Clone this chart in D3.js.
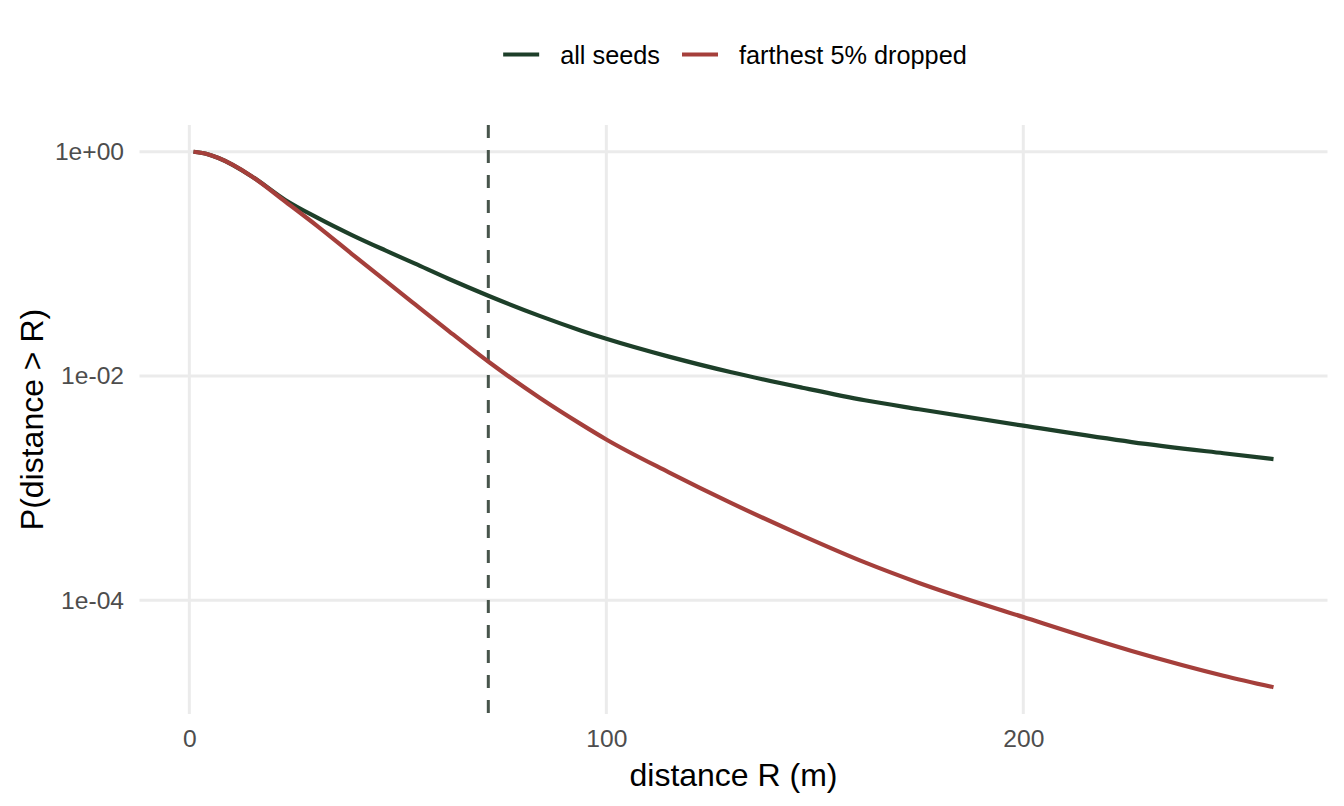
<!DOCTYPE html>
<html>
<head>
<meta charset="utf-8">
<script src="https://cdn.jsdelivr.net/npm/d3@7"></script>
<style>
  body { margin: 0; background: #fff; }
  svg { font-family: "Liberation Sans", Arial, sans-serif; }
</style>
</head>
<body>
<div id="chart"></div>
<script>
// distance R (m) where the curves were read
const distances = [1, 4, 7, 15, 23, 31, 39, 47, 54, 62, 72, 84, 94, 100, 115, 130, 147, 162, 175, 200, 226, 248, 260];
// P(distance > R), all seeds
const allSeeds = [1, 0.959, 0.879, 0.603, 0.372, 0.255, 0.181, 0.132, 0.101, 0.0741, 0.0515, 0.0344, 0.0254, 0.0215,
                  0.0149, 0.0108, 0.00787, 0.00608, 0.00506, 0.00361, 0.00258, 0.00205, 0.00182];
// P(distance > R), farthest 5% dropped
const dropped = [1, 0.959, 0.879, 0.603, 0.360, 0.213, 0.1225, 0.0708, 0.0440, 0.0256, 0.0132, 0.00641, 0.00371, 0.00272,
                 0.001385, 0.000736, 0.000378, 0.000218, 0.000143, 0.0000710, 0.0000354, 0.0000213, 0.0000168];
const seriesNames = ["all seeds", "farthest 5% dropped"];
const cutoff = 71.7;  // dashed line
const xTicks = [0, 100, 200];
const yTicks = [1, 1e-2, 1e-4];
const yTickLabels = ["1e+00", "1e-02", "1e-04"];

function drawChart() {
    d3.select("#chart").selectAll("*").remove();

    const width = 1344, height = 806;
    const left = 139.5, right = 1327.5, top = 125, bottom = 714;
    const colors = ["#1d3f29", "#a53f3b"];

    const svg = d3.select("#chart").append("svg")
        .attr("width", width).attr("height", height);

    // ggplot style 5% expansion (log space for y)
    const xExt = d3.extent(distances);
    const xPad = (xExt[1] - xExt[0]) * 0.05;
    const x = d3.scaleLinear().domain([xExt[0] - xPad, xExt[1] + xPad]).range([left, right]);

    const lo = Math.log10(d3.min(dropped.concat(allSeeds)));
    const hi = Math.log10(d3.max(dropped.concat(allSeeds)));
    const yPad = (hi - lo) * 0.05;
    const y = d3.scaleLog().domain([Math.pow(10, lo - yPad), Math.pow(10, hi + yPad)]).range([bottom, top]);

    // grid
    svg.append("g").selectAll("line").data(xTicks).join("line")
        .attr("x1", d => x(d)).attr("x2", d => x(d))
        .attr("y1", top).attr("y2", bottom)
        .attr("stroke", "#ebebeb").attr("stroke-width", 3);
    svg.append("g").selectAll("line").data(yTicks).join("line")
        .attr("x1", left).attr("x2", right)
        .attr("y1", d => y(d)).attr("y2", d => y(d))
        .attr("stroke", "#ebebeb").attr("stroke-width", 3);

    // axes (labels only)
    const xAxis = svg.append("g")
        .attr("transform", `translate(0,${bottom})`)
        .call(d3.axisBottom(x).tickValues(xTicks).tickSize(0).tickPadding(16));
    const yAxis = svg.append("g")
        .attr("transform", `translate(${left},0)`)
        .call(d3.axisLeft(y).tickValues(yTicks).tickSize(0).tickPadding(15.5)
            .tickFormat((d, i) => yTickLabels[i]));
    [xAxis, yAxis].forEach(g => {
        g.select(".domain").remove();
        g.selectAll("text")
            .style("font-size", "24.6px")
            .style("font-family", "Liberation Sans, Arial, sans-serif")
            .attr("fill", "#4d4d4d");
    });

    // cutoff line
    svg.append("line")
        .attr("x1", x(cutoff)).attr("x2", x(cutoff))
        .attr("y1", top).attr("y2", bottom)
        .attr("stroke", "#47544b").attr("stroke-width", 3)
        .attr("stroke-dasharray", "13,12");

    // curves
    const line = d3.line()
        .x((d, i) => x(distances[i]))
        .y(d => y(d))
        .curve(d3.curveMonotoneX);

    [allSeeds, dropped].forEach((vals, k) => {
        svg.append("path")
            .attr("d", line(vals))
            .attr("fill", "none")
            .attr("stroke", colors[k])
            .attr("stroke-width", 4.2);
    });

    // axis titles
    svg.append("text")
        .attr("x", (left + right) / 2).attr("y", 786)
        .attr("text-anchor", "middle")
        .style("font-size", "32px")
        .text("distance R (m)");
    svg.append("text")
        .attr("transform", `translate(43,${(top + bottom) / 2}) rotate(-90)`)
        .attr("text-anchor", "middle")
        .style("font-size", "32px")
        .text("P(distance > R)");

    // legend on top
    const legend = svg.append("g");
    let cx = 0;
    seriesNames.forEach((name, k) => {
        legend.append("line")
            .attr("x1", cx).attr("x2", cx + 36)
            .attr("y1", 54.5).attr("y2", 54.5)
            .attr("stroke", colors[k]).attr("stroke-width", 4.2);
        const t = legend.append("text")
            .attr("x", cx + 57).attr("y", 64)
            .style("font-size", "25.3px")
            .text(name);
        cx += 57 + t.node().getComputedTextLength() + 22;
    });
    const lw = cx - 22;
    legend.attr("transform", `translate(${(left + right) / 2 - lw / 2 + 1.5},0)`);
}

drawChart();
</script>
</body>
</html>
